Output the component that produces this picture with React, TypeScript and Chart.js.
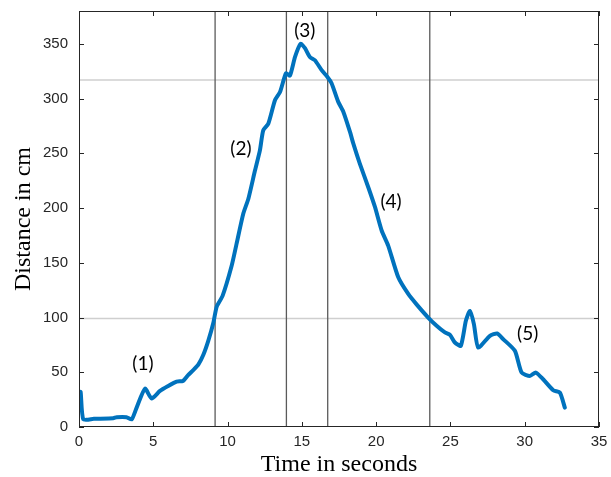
import React, { useEffect, useRef } from "react";
import { Chart, registerables } from "chart.js";

Chart.register(...registerables);

const times = [0, 0.11, 0.29, 1.0, 2.3, 2.54, 3.2, 3.55, 3.88, 4.44, 4.89, 5.45, 6.0, 6.57, 7.0, 7.36, 7.69, 8.03, 8.37, 8.7, 9.04, 9.27, 9.67, 10.27, 10.6, 11.06, 11.4, 11.84, 12.18, 12.4, 12.74, 13.19, 13.53, 13.93, 14.2, 14.54, 14.92, 15.21, 15.54, 15.88, 16.33, 16.71, 17.0, 17.45, 17.79, 18.24, 18.46, 18.9, 19.47, 19.92, 20.37, 20.81, 21.49, 22.16, 22.72, 23.5, 24.07, 24.63, 24.97, 25.3, 25.7, 26.04, 26.31, 26.58, 26.87, 27.66, 28.15, 28.55, 29.34, 29.79, 30.35, 30.75, 31.24, 31.92, 32.37, 32.7];
const distances = [18, 32, 7, 7.5, 8, 9, 9, 7, 17.7, 35, 26, 33, 37.5, 41.5, 42, 47.6, 52, 57, 66, 78.7, 95, 110, 120, 147, 167, 195, 208.5, 234, 253, 271, 277, 298.5, 306, 323, 321, 338, 350, 346, 338, 335, 326, 320, 314, 297, 288, 269.5, 259, 240.6, 219, 201, 179.5, 165.7, 136.7, 121.5, 112, 100, 92.5, 86.4, 84.2, 77.2, 74.2, 97, 106, 94, 72.6, 83.3, 85.4, 80.3, 69.6, 49.7, 46.7, 49.7, 43.6, 33.6, 31.4, 17.7];

const xTicks = [0, 5, 10, 15, 20, 25, 30, 35];
const yTicks = [0, 50, 100, 150, 200, 250, 300, 350];
const phaseBoundaries = [9.16, 13.96, 16.74, 23.61];
const thresholds = [99, 317];
const labelTexts = ["(1)", "(2)", "(3)", "(4)", "(5)"];
const labelX = [4.3, 10.9, 15.2, 21.0, 30.2];
const labelY = [58, 254, 362, 206, 85];

const AXIS_COLOR = "#262626";

const decorPlugin = {
  id: "decor",
  beforeDatasetsDraw(chart: any) {
    const { ctx, chartArea: a, scales } = chart;
    const xs = scales.x, ys = scales.y;
    ctx.save();
    ctx.lineWidth = 1.5;
    ctx.strokeStyle = "#cfcfcf";
    thresholds.forEach((v) => {
      const py = ys.getPixelForValue(v);
      ctx.beginPath();
      ctx.moveTo(a.left, py);
      ctx.lineTo(a.right, py);
      ctx.stroke();
    });
    ctx.strokeStyle = "#5a5a5a";
    ctx.lineWidth = 1.3;
    phaseBoundaries.forEach((v) => {
      const px = xs.getPixelForValue(v);
      ctx.beginPath();
      ctx.moveTo(px, a.top);
      ctx.lineTo(px, a.bottom);
      ctx.stroke();
    });
    ctx.restore();
  },
  afterDraw(chart: any) {
    const { ctx, chartArea: a, scales } = chart;
    const xs = scales.x, ys = scales.y;
    ctx.save();
    ctx.strokeStyle = AXIS_COLOR;
    ctx.lineWidth = 1;
    ctx.strokeRect(a.left + 0.5, a.top + 0.5, a.right - a.left - 1, a.bottom - a.top - 1);
    const tl = 5;
    ctx.beginPath();
    xTicks.forEach((v) => {
      const px = Math.round(xs.getPixelForValue(v)) + 0.5;
      ctx.moveTo(px, a.bottom);
      ctx.lineTo(px, a.bottom - tl);
      ctx.moveTo(px, a.top);
      ctx.lineTo(px, a.top + tl);
    });
    yTicks.forEach((v) => {
      const py = Math.round(ys.getPixelForValue(v)) + 0.5;
      ctx.moveTo(a.left, py);
      ctx.lineTo(a.left + tl, py);
      ctx.moveTo(a.right, py);
      ctx.lineTo(a.right - tl, py);
    });
    ctx.stroke();
    ctx.fillStyle = "#000";
    ctx.font = "19px Lato";
    ctx.textAlign = "center";
    ctx.textBaseline = "middle";
    labelTexts.forEach((t, i) => {
      ctx.fillText(t, xs.getPixelForValue(labelX[i]), ys.getPixelForValue(labelY[i]));
    });
    ctx.restore();
  },
};

export default function App() {
  const ref = useRef<HTMLCanvasElement>(null);
  useEffect(() => {
    document.body.style.margin = "0";
    const chart = new Chart(ref.current!, {
      type: "line",
      data: {
        datasets: [
          {
            data: times.map((t, i) => ({ x: t, y: distances[i] })),
            borderColor: "#0072BD",
            borderWidth: 4,
            pointRadius: 0,
            tension: 0.2,
            borderJoinStyle: "round",
            borderCapStyle: "round",
          },
        ],
      },
      options: {
        animation: false,
        responsive: false,
        layout: { padding: { top: 11, right: 12, left: 0, bottom: 0 } },
        plugins: { legend: { display: false }, tooltip: { enabled: false } },
        scales: {
          x: {
            type: "linear",
            min: 0,
            max: 35,
            afterBuildTicks: (s: any) => { s.ticks = xTicks.map((v) => ({ value: v })); },
            afterFit: (s: any) => { s.height = 50; s.paddingLeft = 0; s.paddingRight = 0; },
            grid: { display: false, drawTicks: false },
            border: { display: false },
            ticks: { color: AXIS_COLOR, font: { family: "Liberation Sans", size: 15 }, padding: 6, maxRotation: 0 },
            title: { display: true, text: "Time in seconds", color: "#000", font: { family: "Liberation Serif", size: 24, lineHeight: 1 }, padding: { top: 0, bottom: 0 } },
          },
          y: {
            type: "linear",
            min: 0,
            max: 380,
            afterBuildTicks: (s: any) => { s.ticks = yTicks.map((v) => ({ value: v })); },
            afterFit: (s: any) => { s.width = 79; s.paddingTop = 0; s.paddingBottom = 0; },
            grid: { display: false, drawTicks: false },
            border: { display: false },
            ticks: { color: AXIS_COLOR, font: { family: "Liberation Sans", size: 15 }, padding: 11 },
            title: { display: true, text: "Distance in cm", color: "#000", font: { family: "Liberation Serif", size: 24, lineHeight: 1 }, padding: { top: 12, bottom: 0 } },
          },
        },
      },
      plugins: [decorPlugin],
    });
    return () => chart.destroy();
  }, []);
  return <canvas ref={ref} width={611} height={477} style={{ display: "block" }} />;
}
